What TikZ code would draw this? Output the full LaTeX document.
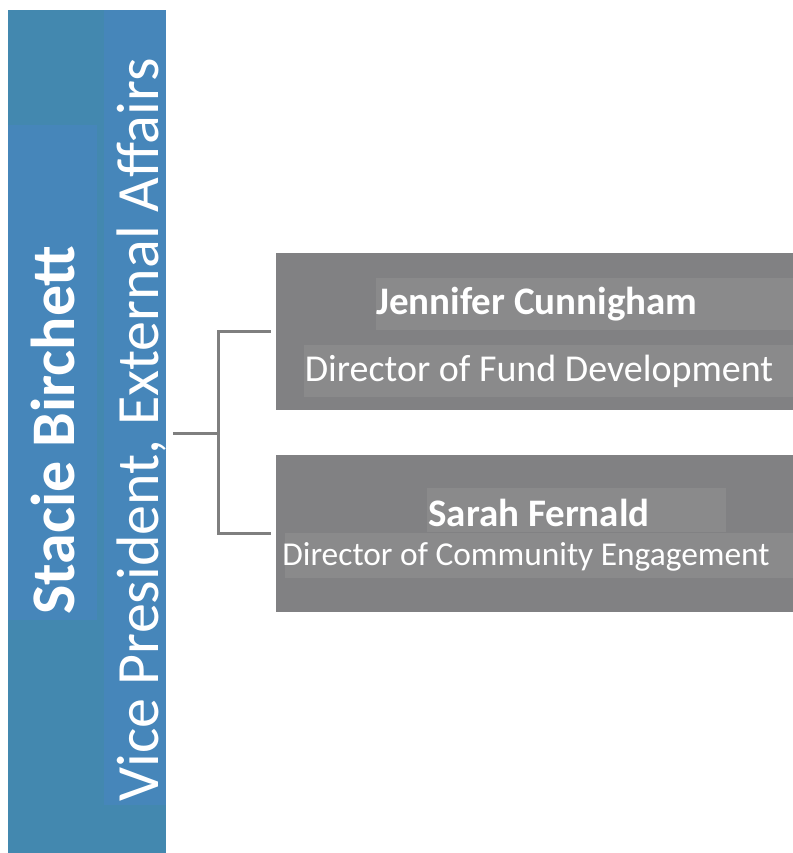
\documentclass[tikz,border=0pt]{standalone}
\usepackage{fontspec}
\setmainfont{Carlito}
\usetikzlibrary{positioning}
\definecolor{vpblue}{HTML}{4388AF}
\definecolor{vpshade}{HTML}{4686BA}
\definecolor{boxgray}{HTML}{818183}
\definecolor{boxshade}{HTML}{8A8A8B}
\definecolor{linegray}{HTML}{7F7F7F}
\begin{document}
\begin{tikzpicture}[x=0.5pt, y=0.5pt, thick,
  head/.style = {fill=vpblue, minimum width=79pt, minimum height=421.5pt, inner sep=0pt},
  staff/.style = {fill=boxgray, minimum width=258.5pt, minimum height=78.5pt, inner sep=0pt},
  person/.style = {text=white, font=\fontsize{19.5}{22}\selectfont\bfseries, inner sep=0pt},
  role/.style = {text=white, font=\fontsize{19}{22}\selectfont, inner sep=0pt},
  conn/.style = {draw=linegray, line width=1.5pt}]
  \useasboundingbox (0,0) rectangle (793,853);
  % vice president column
  \node[head] (vp) at (87,421.5) {};
  \fill[vpshade] (8,233) rectangle (97,728);
  \fill[vpshade] (104,48) rectangle (166,843);
  \node[text=white, rotate=90, inner sep=0pt, font=\fontsize{31}{36}\selectfont\bfseries]
    (vpname) at (53,423) {Stacie Birchett};
  \node[text=white, rotate=90, inner sep=0pt, font=\fontsize{30}{36}\selectfont]
    (vptitle) at (142,423) {Vice President, External Affairs};
  % directors
  \node[staff] (jc) at (534.5,521.5) {};
  \node[staff] (sf) at (534.5,319) {};
  \fill[boxshade] (376,523) rectangle (793,575);
  \fill[boxshade] (304,456) rectangle (793,508);
  \fill[boxshade] (427,321) rectangle (726,365);
  \fill[boxshade] (285,275) rectangle (793,320);
  \node[person] (jcname) at (537,549) {Jennifer Cunnigham};
  \node[role] (jcrole) at (539,482) {Director of Fund Development};
  \node[person] (sfname) at (539,340) {Sarah Fernald};
  \node[role, font=\fontsize{16.7}{20}\selectfont] (sfrole) at (526,296) {Director of Community Engagement};
  % connectors
  \draw[conn] ([xshift=3pt,yshift=-1pt]vp.east) -- ++(46,0) coordinate (hub);
  \draw[conn, shorten >=2pt] (hub) |- (jc.west);
  \draw[conn, shorten >=2pt] (hub) |- (sf.west);
\end{tikzpicture}
\end{document}
